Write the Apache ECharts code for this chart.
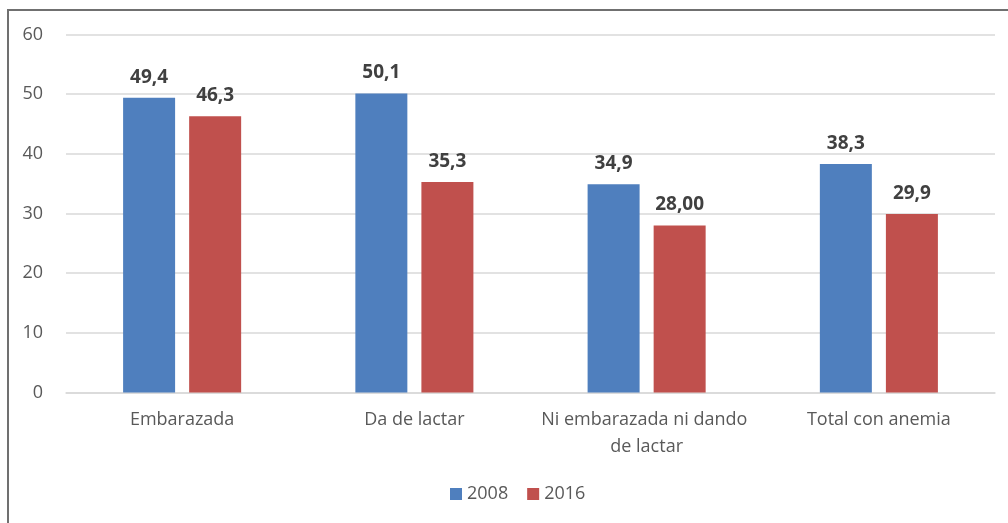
<!DOCTYPE html>
<html>
<head>
<meta charset="utf-8">
<script src="https://cdn.jsdelivr.net/npm/echarts@6/dist/echarts.min.js"></script>
<style>
html,body{margin:0;padding:0;background:#fff;}
#chart{width:1008px;height:523px;}
</style>
</head>
<body>
<div id="chart"></div>
<script>
const categories = ["Embarazada", "Da de lactar", "Ni embarazada ni dando de lactar", "Total con anemia"];
const seriesNames = ["2008", "2016"];
const values2008 = [49.4, 50.1, 34.9, 38.3];
const values2016 = [46.3, 35.3, 28.0, 29.9];
const labels2008 = ["49,4", "50,1", "34,9", "38,3"];
const labels2016 = ["46,3", "35,3", "28,00", "29,9"];
const yTicks = { min: 0, max: 60, interval: 10 };

const FONT = "Open Sans";
const chart = echarts.init(document.getElementById('chart'), null, { renderer: 'canvas' });

function barSeries(name, values, labels, color) {
  return {
    name: name,
    type: 'bar',
    data: values,
    barWidth: 52,
    barGap: '27%',
    itemStyle: { color: color },
    label: {
      show: true,
      position: 'top',
      distance: 11,
      fontFamily: FONT,
      fontSize: 19,
      fontWeight: 'bold',
      color: '#404040',
      formatter: p => labels[p.dataIndex]
    },
    emphasis: { disabled: true }
  };
}

chart.setOption({
  animation: false,
  textStyle: { fontFamily: FONT },
  graphic: [{
    type: 'rect',
    shape: { x: 8, y: 10, width: 1100, height: 600 },
    style: { fill: 'none', stroke: '#707070', lineWidth: 2 },
    silent: true
  }],
  grid: { left: 66, right: 13, top: 34.5, bottom: 130.5 },
  legend: {
    data: seriesNames,
    left: 445,
    top: 480,
    itemWidth: 12,
    itemHeight: 12,
    itemGap: 19,
    icon: 'rect',
    textStyle: { fontFamily: FONT, fontSize: 18, color: '#595959' },
    selectedMode: false
  },
  xAxis: {
    type: 'category',
    data: categories,
    axisLine: { show: true, lineStyle: { color: '#D9D9D9', width: 1.5 } },
    axisTick: { show: false },
    axisLabel: {
      interval: 0,
      margin: 14,
      fontFamily: FONT,
      fontSize: 18,
      color: '#595959',
      lineHeight: 27,
      width: 225,
      overflow: 'break',
      align: 'center'
    }
  },
  yAxis: {
    type: 'value',
    min: yTicks.min,
    max: yTicks.max,
    interval: yTicks.interval,
    axisLine: { show: false },
    axisTick: { show: false },
    splitLine: { lineStyle: { color: '#D9D9D9', width: 1.5 } },
    axisLabel: { margin: 23, fontFamily: FONT, fontSize: 18, color: '#595959' }
  },
  series: [
    barSeries(seriesNames[0], values2008, labels2008, '#4F7FBE'),
    barSeries(seriesNames[1], values2016, labels2016, '#C0504D')
  ]
});
</script>
</body>
</html>
